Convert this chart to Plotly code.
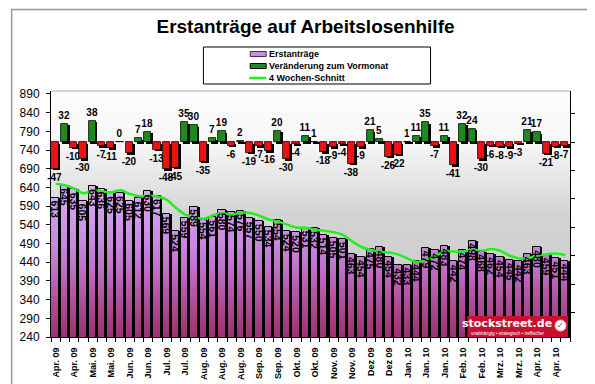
import base64
import numpy as np
import plotly.graph_objects as go

# ---------------- data ----------------
erstantraege = [613, 645, 635, 605, 643, 636, 625, 625, 605, 612, 630, 617, 569, 524,
                559, 589, 554, 561, 580, 574, 576, 557, 550, 534, 554, 524, 520, 531,
                532, 514, 505, 501, 463, 454, 475, 480, 454, 432, 433, 444, 479, 472,
                483, 442, 474, 498, 468, 462, 454, 445, 442, 463, 480, 459, 451, 444]
veraenderung = [-47, 32, -10, -30, 38, -7, -11, 0, -20, 7, 18, -13, -48, -45,
                35, 30, -35, 7, 19, -6, 2, -19, -7, -16, 20, -30, -4, 11,
                1, -18, -9, -4, -38, -9, 21, 5, -26, -22, 1, 11, 35, -7,
                11, -41, 32, 24, -30, -6, -8, -9, -3, 21, 17, -21, -8, -7]
schnitt = [650, 646, 637, 624.5, 632, 629.75, 627.25, 632.25, 622.75, 616.75, 618, 616,
           607, 585, 567.25, 560.25, 556.5, 565.75, 571, 567.25, 572.75, 571.75, 564.25,
           554.25, 548.75, 540.5, 533, 532.25, 526.75, 524.25, 520.5, 513, 495.75, 480.75,
           473.25, 468, 465.75, 460.25, 449.75, 440.75, 447, 457, 469.5, 469, 467.75,
           474.25, 470.5, 475.5, 470.5, 457.25, 450.75, 451, 457.5, 461, 463.25, 458.5]
tick_labels = ["Apr. 09", "Apr. 09", "Mai. 09", "Mai. 09", "Jun. 09", "Jun. 09", "Jul. 09",
               "Jul. 09", "Aug. 09", "Aug. 09", "Aug. 09", "Sep. 09", "Sep. 09", "Okt. 09",
               "Okt. 09", "Nov. 09", "Nov. 09", "Dez 09", "Dez 09", "Jan. 10", "Jan. 10",
               "Jan. 10", "Feb. 10", "Feb. 10", "Mrz. 10", "Mrz. 10", "Apr. 10", "Apr. 10"]

# ---------------- geometry / style ----------------
W, H = 595, 384
L, R, T, B = 41, 33, 83, 55
PW, PH = W - L - R, H - T - B
FONT = "Arial, Liberation Sans, sans-serif"

def px(xp):
    return (xp - L) / PW

def py(yp):
    return (H - B - yp) / PH

n = len(erstantraege)
idx = list(range(n))
vals = np.array(erstantraege, dtype=float)

BW = 0.78
OFF = -0.45

fig = go.Figure()

# shadow of main bars
fig.add_trace(go.Bar(x=idx, y=erstantraege, width=BW, offset=OFF + 0.2,
                     marker=dict(color="black", line=dict(width=0)),
                     showlegend=False, hoverinfo="skip"))

# gradient bands for main bars
stops_v = [240, 330, 420, 500, 580, 660]
stops_c = [(0x9A, 0x32, 0x6E), (0xAE, 0x4C, 0x96), (0xC0, 0x70, 0xC8),
           (0xC8, 0x8C, 0xE0), (0xCF, 0xA2, 0xEC), (0xD8, 0xB6, 0xF4)]

def col(v):
    c = [np.interp(v, stops_v, [s[k] for s in stops_c]) for k in range(3)]
    return "rgb(%d,%d,%d)" % tuple(int(round(t)) for t in c)

step = 10
for lev in np.arange(240, 660, step):
    h = np.clip(vals - lev, 0, step)
    fig.add_trace(go.Bar(x=idx, y=h, base=float(lev), width=BW, offset=OFF,
                         marker=dict(color=col(lev + step / 2), line=dict(width=0)),
                         showlegend=False, hoverinfo="skip"))

# outline of main bars
fig.add_trace(go.Bar(x=idx, y=erstantraege, width=BW, offset=OFF,
                     marker=dict(color="rgba(0,0,0,0)", line=dict(color="black", width=1)),
                     name="Erstanträge", showlegend=False))

# 4 week average
fig.add_trace(go.Scatter(x=idx, y=schnitt, mode="lines",
                         line=dict(color="#22EE22", width=2.5, shape="spline"),
                         name="4 Wochen-Schnitt", showlegend=False))

# change bars (secondary axis)
fig.add_trace(go.Bar(x=idx, y=veraenderung, base=-2.5, width=BW, offset=OFF + 0.18,
                     marker=dict(color="black", line=dict(width=0)), yaxis="y2",
                     showlegend=False, hoverinfo="skip"))
pos = [v if v >= 0 else None for v in veraenderung]
neg = [v if v < 0 else None for v in veraenderung]
fig.add_trace(go.Bar(x=idx, y=pos, width=BW, offset=OFF, yaxis="y2",
                     marker=dict(color="#1E8A1E", line=dict(color="black", width=0.8)),
                     text=[str(v) if v is not None else "" for v in pos],
                     textposition="outside", textangle=0, constraintext="none", cliponaxis=False,
                     textfont=dict(family=FONT, size=10, color="black", weight="bold"),
                     name="Veränderung zum Vormonat", showlegend=False))
fig.add_trace(go.Bar(x=idx, y=neg, width=BW, offset=OFF, yaxis="y2",
                     marker=dict(color="#F01010", line=dict(color="black", width=0.8)),
                     text=[str(v) if v is not None else "" for v in neg],
                     textposition="outside", textangle=0, constraintext="none", cliponaxis=False,
                     textfont=dict(family=FONT, size=10, color="black", weight="bold"),
                     showlegend=False))

# ---------------- background gradient of plot area ----------------
svg = ('<svg xmlns="http://www.w3.org/2000/svg" width="10" height="100" preserveAspectRatio="none">'
       '<defs><linearGradient id="g" x1="0" y1="0" x2="0" y2="1">'
       '<stop offset="0" stop-color="#fdfdfd"/>'
       '<stop offset="0.22" stop-color="#f6f6f6"/>'
       '<stop offset="0.38" stop-color="#e3e3e3"/>'
       '<stop offset="0.5" stop-color="#d3d3d3"/>'
       '<stop offset="1" stop-color="#c8c8c8"/>'
       '</linearGradient></defs><rect width="10" height="100" fill="url(#g)"/></svg>')
uri = "data:image/svg+xml;base64," + base64.b64encode(svg.encode()).decode()

shapes = []
annotations = []

# rotated value labels inside the purple bars
for i, v in zip(idx, erstantraege):
    annotations.append(dict(text="<b>" + str(v) + "</b>", x=i, y=v, xref="x", yref="y",
                            xshift=-0.5, yshift=-1,
                            textangle=90, xanchor="center", yanchor="top", showarrow=False,
                            font=dict(family=FONT, size=10.5, color="black")))

# outer frame
shapes.append(dict(type="rect", xref="paper", yref="paper", x0=px(1.5), x1=px(593), y0=py(1.5), y1=py(382),
                   line=dict(color="#9a9a9a", width=1.5), fillcolor="rgba(0,0,0,0)", layer="below"))
# top border of plot
shapes.append(dict(type="line", xref="paper", yref="paper", x0=0, x1=1, y0=1, y1=1,
                   line=dict(color="#a8a8a8", width=1)))

# legend (drawn manually)
shapes.append(dict(type="rect", xref="paper", yref="paper", x0=px(194), x1=px(422), y0=py(39), y1=py(76),
                   line=dict(color="black", width=1), fillcolor="white"))
shapes.append(dict(type="rect", xref="paper", yref="paper", x0=px(241), x1=px(257), y0=py(43.5), y1=py(48.5),
                   line=dict(color="#4a2a5a", width=1), fillcolor="#C890E0"))
shapes.append(dict(type="rect", xref="paper", yref="paper", x0=px(241), x1=px(257), y0=py(55.5), y1=py(60.5),
                   line=dict(color="black", width=1), fillcolor="#1E8A1E"))
shapes.append(dict(type="line", xref="paper", yref="paper", x0=px(240), x1=px(257), y0=py(70), y1=py(70),
                   line=dict(color="#22EE22", width=2.5)))
for txt, yy in [("Erstanträge", 46), ("Veränderung zum Vormonat", 58), ("4 Wochen-Schnitt", 70)]:
    annotations.append(dict(text="<b>" + txt + "</b>", xref="paper", yref="paper", x=px(257.5), y=py(yy),
                            xanchor="left", yanchor="middle", showarrow=False,
                            font=dict(family=FONT, size=9, color="black")))

# watermark
shapes.append(dict(type="rect", xref="paper", yref="paper", x0=px(459), x1=px(560), y0=py(308), y1=py(329),
                   line=dict(width=0), fillcolor="#C8102E"))
shapes.append(dict(type="circle", xref="paper", yref="paper", x0=px(547), x1=px(558), y0=py(312), y1=py(323),
                   line=dict(color="#f0c0c0", width=1), fillcolor="white"))
annotations.append(dict(text="<b>stockstreet.de</b>", xref="paper", yref="paper", x=px(499), y=py(315),
                        xanchor="center", yanchor="middle", showarrow=False,
                        font=dict(family="DejaVu Sans, sans-serif", size=11, color="white")))
annotations.append(dict(text="unabhängig • strategisch • treffsicher", xref="paper", yref="paper",
                        x=px(500), y=py(325.5), xanchor="center", yanchor="middle", showarrow=False,
                        font=dict(family=FONT, size=4.5, color="white")))
annotations.append(dict(text="<b>✓</b>", xref="paper", yref="paper", x=px(552.5), y=py(317.5),
                        xanchor="center", yanchor="middle", showarrow=False,
                        font=dict(family="DejaVu Sans, sans-serif", size=8, color="#C8102E")))

fig.update_layout(
    width=W, height=H,
    margin=dict(l=L, r=R, t=T, b=B, pad=0),
    paper_bgcolor="white",
    plot_bgcolor="rgba(0,0,0,0)",
    barmode="overlay",
    bargap=0,
    showlegend=False,
    title=dict(text="<b>Erstanträge auf Arbeitslosenhilfe</b>", x=0.5, xanchor="center",
               y=1 - 18 / H, yanchor="middle",
               font=dict(family=FONT, size=19, color="black")),
    xaxis=dict(range=[-0.5, n - 0.5], tickmode="array", tickvals=list(range(0, n, 2)),
               ticktext=tick_labels, tickangle=-90, ticks="outside", ticklen=0,
               ticklabelstandoff=6,
               tickfont=dict(family=FONT, size=9, color="black", weight="bold"),
               showline=True, linecolor="black", linewidth=1, showgrid=False, zeroline=False,
               minor=dict(tickmode="linear", tick0=0.5, dtick=1, ticks="outside", ticklen=4,
                          tickcolor="black", showgrid=False)),
    yaxis=dict(range=[240, 898], tickmode="linear", tick0=240, dtick=50,
               ticks="outside", ticklen=4, tickcolor="black", ticklabelstandoff=4,
               tickfont=dict(family=FONT, size=12, color="black"),
               showline=True, linecolor="black", linewidth=1, showgrid=False, zeroline=False),
    yaxis2=dict(range=[-343, 90], overlaying="y", side="right", tickmode="linear", tick0=0, dtick=50,
                ticks="outside", ticklen=4, tickcolor="black", showticklabels=False,
                showline=True, linecolor="black", linewidth=1, showgrid=False, zeroline=False),
    images=[dict(source=uri, xref="paper", yref="paper", x=0, y=1, sizex=1, sizey=1,
                 sizing="stretch", layer="below", xanchor="left", yanchor="top")],
    shapes=shapes,
    annotations=annotations,
)

fig.write_html("out.html")
